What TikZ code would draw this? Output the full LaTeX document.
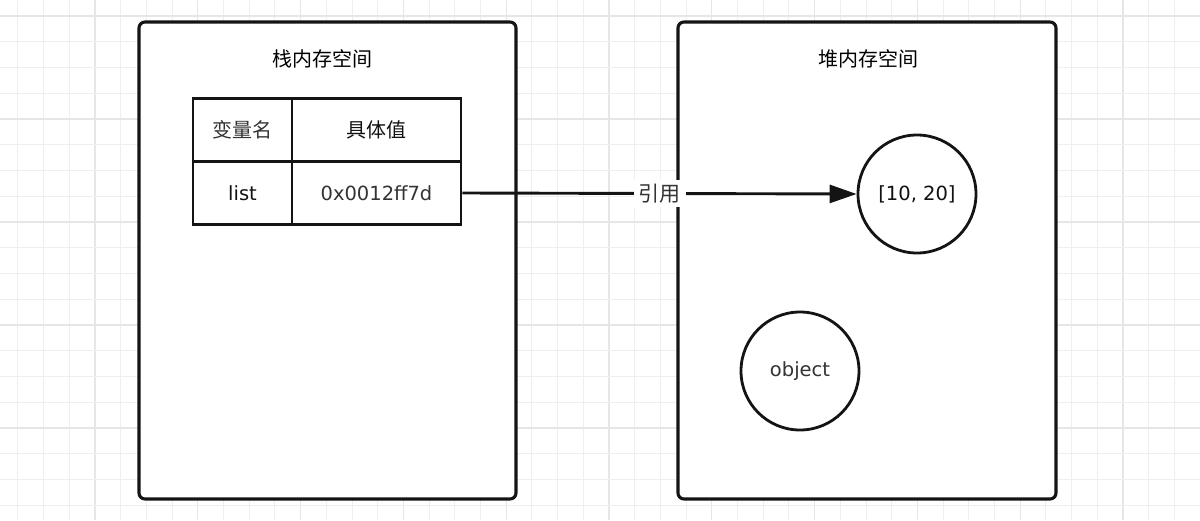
\documentclass[tikz,border=0pt]{standalone}
\usepackage{fontspec}
\setmainfont{DejaVu Sans}
\newfontfamily\cjk{Noto Sans CJK SC}
\usetikzlibrary{arrows.meta}
\definecolor{gridminor}{HTML}{EFEFEF}
\definecolor{gridmajor}{HTML}{E6E6E6}
\definecolor{ink}{HTML}{141414}
\definecolor{txtdark}{HTML}{111111}
\definecolor{txtgray}{HTML}{333333}
\tikzset{
  panel/.style={draw=ink, fill=white, line width=3.1pt, rounded corners=6pt},
  paneltitle/.style={text=black, font=\cjk\fontsize{20}{22}\selectfont, inner sep=0pt},
  cell/.style={draw=ink, line width=2.8pt, inner sep=0pt, minimum height=63pt},
  cjktext/.style={font=\cjk\fontsize{20}{22}\selectfont},
  latintext/.style={font=\fontsize{19.5}{22}\selectfont},
  memcircle/.style={draw=ink, circle, line width=2.8pt, minimum size=118pt, inner sep=0pt, fill=white},
  refarrow/.style={draw=ink, line width=2.9pt, -{Triangle[length=27pt,width=18pt]}},
  reflabel/.style={fill=white, text=txtgray, inner xsep=5pt, inner ysep=4pt, font=\cjk\fontsize{21}{23}\selectfont}
}
\begin{document}
\begin{tikzpicture}[x=1pt,y=-1pt]
\useasboundingbox (0,0) rectangle (1200,520);
\fill[white] (0,0) rectangle (1200,520);
% grid
\foreach \k in {-3,...,43}{
  \pgfmathsetmacro{\gx}{95+\k*25.7}
  \pgfmathtruncatemacro{\m}{mod(\k+40,4)}
  \ifnum\m=0
    \draw[gridmajor, line width=1.3pt] (\gx,0) -- (\gx,520);
  \else
    \draw[gridminor, line width=1pt] (\gx,0) -- (\gx,520);
  \fi
}
\foreach \k in {0,...,19}{
  \pgfmathsetmacro{\gy}{16+\k*25.75}
  \pgfmathtruncatemacro{\m}{mod(\k,4)}
  \ifnum\m=0
    \draw[gridmajor, line width=1.3pt] (0,\gy) -- (1200,\gy);
  \else
    \draw[gridminor, line width=1pt] (0,\gy) -- (1200,\gy);
  \fi
}
% panels
\draw[panel] (139,22) rectangle (516,499);
\draw[panel] (678,22) rectangle (1056,499);
\node[paneltitle] (stacktitle) at (322,59) {栈内存空间};
\node[paneltitle] (heaptitle) at (868,59) {堆内存空间};
% table
\node[cell, minimum width=99pt, text=txtgray, cjktext] (h1) at (242.5,130) {变量名};
\node[cell, minimum width=169pt, text=txtdark, cjktext] (h2) at (376.5,130) {具体值};
\node[cell, minimum width=99pt, text=txtdark, latintext] (v0) at (242.5,193) {list};
\node[cell, minimum width=169pt, text=txtgray, latintext] (v1) at (376.5,193) {0x0012ff7d};
% heap objects
\node[memcircle, text=txtdark, latintext] (arr) at (917,194) {[10, 20]};
\node[memcircle, text=txtgray, latintext] (obj) at (800,371) {object};
% reference arrow
\draw[refarrow] (v1.east) -- node[reflabel] {引用} (arr.west);
\end{tikzpicture}
\end{document}
